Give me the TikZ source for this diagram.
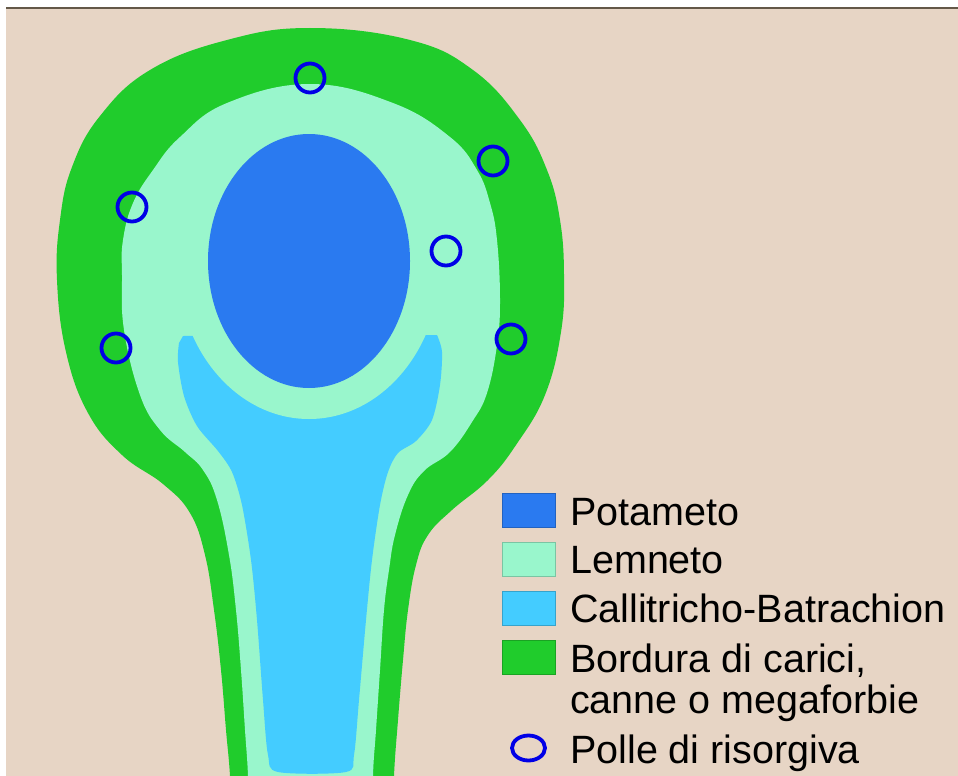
\documentclass[tikz,border=0pt]{standalone}
\usepackage{fontspec}
\setmainfont{Liberation Sans}
\usepackage{xcolor}
\usetikzlibrary{math}
\definecolor{sand}{RGB}{231,213,197}
\definecolor{frameline}{RGB}{100,88,72}
\definecolor{bordgreen}{RGB}{32,204,44}
\definecolor{lemmint}{RGB}{153,246,204}
\definecolor{calblue}{RGB}{68,204,255}
\definecolor{potblue}{RGB}{42,122,240}
\definecolor{polblue}{RGB}{0,0,230}

\begin{document}
\begin{tikzpicture}[x=1pt, y=-1pt,
  legbox/.style={draw=#1!80!black, line width=1, fill=#1, minimum width=53, minimum height=34, inner sep=0},
  legtext/.style={anchor=base west, inner sep=0, font=\fontsize{39.5}{40}\selectfont},
  ring/.style={draw=polblue, line width=3.8}]
\tikzmath{
\cx=309;
\cy=261;
}
\useasboundingbox (0,0) rectangle (958,776);
\fill[white] (0,0) rectangle (958,776);
\fill[sand] (6,8.8) rectangle (958,776);
\draw[frameline, line width=1.6] (6,8) -- (958,8);

\begin{scope}
\clip (6,9) rectangle (958,776);
% bordura
\fill[bordgreen] plot[smooth cycle, tension=0.7] coordinates {(232,830) (230,776) (226,730) (221,670) (214,610) (205,555) (190,513) (163,484) (122,455) (88,413) (66,352) (57,280) (60,220) (72,167) (100,116) (150,70) (227,40) (310,28) (410,40) (473,70) (520,120) (547,170) (560,220) (564,275) (561,332) (545,395) (516,445) (488,480) (452,510) (428,535) (416,565) (408,610) (403,660) (398,720) (394,776) (393,830)};
% lemneto
\fill[lemmint] plot[smooth cycle, tension=0.7] coordinates {(249,830) (248,776) (245,730) (241,670) (236,610) (229,555) (217,500) (203,470) (185,452) (160,430) (140,395) (124,330) (122,275) (123,240) (133,203) (153,170) (180,137) (227,103) (310,84) (393,103) (450,137) (477,170) (490,203) (497,240) (500,300) (497,345) (487,393) (472,422) (450,452) (424,471) (408,495) (395,535) (389,570) (384,610) (380,670) (376,730) (373,776) (373,830)};
% callitricho
\fill[calblue] (183,336) -- plot[smooth] coordinates {(437,335) (442,352) (440,385) (432,420) (416,441) (398,453) (388,472) (380,505) (372,560) (366,620) (359,700) (354,755) (346,772) (278,772) (268,755) (263,700) (257,620) (251,560) (242,505) (232,472) (218,451) (197,426) (184,396) (178,362) (179,343)} -- cycle;
\fill[lemmint] (\cx,\cy) ellipse[x radius=132, y radius=158];
% potameto
\fill[potblue] (\cx,\cy) ellipse[x radius=101, y radius=127];
\end{scope}

% polle
\draw[ring] (310,78) circle[radius=14.5];
\draw[ring] (493,161) circle[radius=14.5];
\draw[ring] (132,207) circle[radius=14.5];
\draw[ring] (446,251) circle[radius=14.5];
\draw[ring] (116,348) circle[radius=14.5];
\draw[ring] (511,339) circle[radius=14.5];

% legend
\node[legbox=potblue] (potbox) at (528.5,510) {};
\node[legbox=lemmint] (lembox) at (528.5,559.5) {};
\node[legbox=calblue] (calbox) at (528.5,608.5) {};
\node[legbox=bordgreen] (borbox) at (528.5,657.5) {};
\draw[ring] (528.5,748) ellipse[x radius=16.5, y radius=12.5];
\node[legtext] (potlab) at (570,525) {Potameto};
\node[legtext] (lemlab) at (570,573) {Lemneto};
\node[legtext] (callab) at (570,622) {Callitricho-Batrachion};
\node[legtext] (borlab) at (570,672) {Bordura di carici,};
\node[legtext] (borlabb) at (570,713) {canne o megaforbie};
\node[legtext] (pollab) at (570,763) {Polle di risorgiva};
\end{tikzpicture}
\end{document}
